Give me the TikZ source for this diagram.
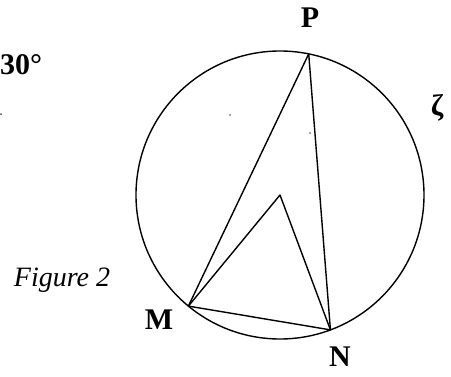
\documentclass[tikz,border=0pt]{standalone}
\usepackage{fontspec}
\setmainfont{Liberation Serif}
\usetikzlibrary{calc}

\begin{document}
\begin{tikzpicture}[
  x=1pt, y=1pt,
  font=\fontsize{30}{33}\selectfont\bfseries,
  line/.style={line width=1.4pt, line join=round},
  lbl/.style={inner sep=0pt},
  speck/.style={fill=black!70}
]
\useasboundingbox (0,0) rectangle (451,376);
\coordinate (O) at (280,181);
\coordinate (P) at ($(O)+(78.5:144)$);
\coordinate (M) at ($(O)+(230.5:144)$);
\coordinate (N) at ($(O)+(290.5:144)$);
\draw[line] (O) circle (144);
\draw[line] (M) -- (P) -- (N) -- cycle;
\draw[line] (M) -- (O) -- (N);
% labels
\node[lbl] (lP) at (310,358) {P};
\node[lbl] (lM) at (159,56) {M};
\node[lbl] (lN) at (340,19) {N};
\node[lbl] (lz) at (437,268) {ζ};
\node[lbl, anchor=west] (ang) at (0,311) {30°};
\node[lbl, font=\fontsize{28}{30}\selectfont\itshape] (fig) at (62,96) {Figure 2};
% stray marks
\fill[speck] (230,261) circle (0.8);
\fill[speck] (310,243) circle (0.8);
\fill[speck] (1,262) circle (1);
\end{tikzpicture}
\end{document}
